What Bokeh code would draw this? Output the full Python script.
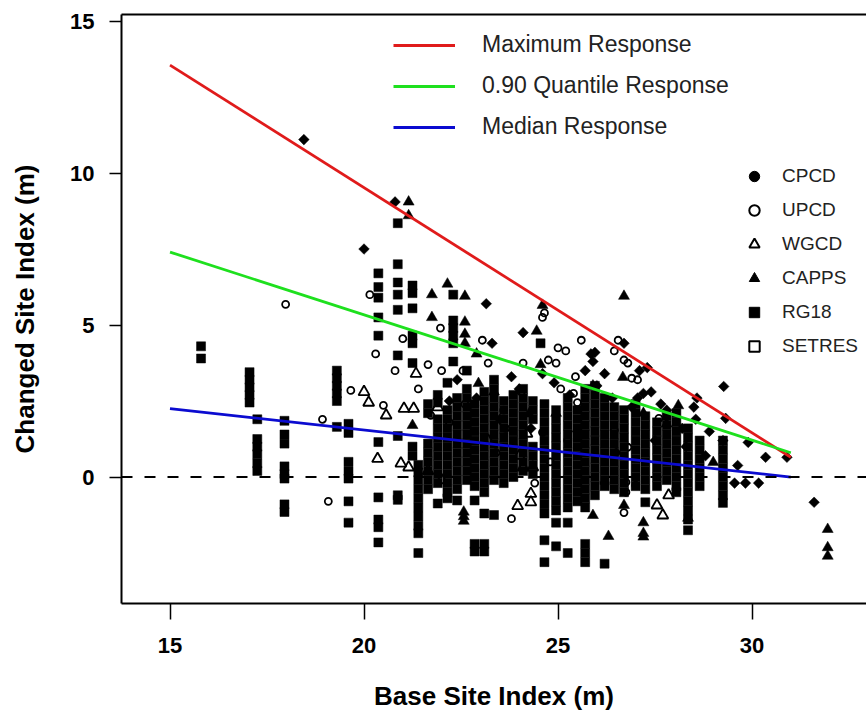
import numpy as np
from bokeh.plotting import figure
from bokeh.models import Span, Legend, LegendItem, FixedTicker, Range1d, LinearAxis
from bokeh.embed import file_html
from bokeh.resources import INLINE

# ---- response lines (endpoints) ----
line_x = [15, 31]
max_resp = [13.55, 0.65]
q90_resp = [7.4, 0.8]
med_resp = [2.25, 0.0]

# ---- CPCD (filled diamonds) ----
cpcd_x = [18.45, 20.0, 20.8, 23.15, 23.3, 24.1, 25.85, 25.95, 25.7, 26.7, 27.1, 27.3, 29.27, 28.58,
          28.55, 29.32, 29.9, 30.35, 30.9, 28.8, 29.63, 29.55, 29.83, 30.17, 31.6, 29.25, 22.4, 24.0,
          24.9, 25.3, 26.0, 26.4, 26.9, 27.4, 27.8, 28.2, 28.5, 27.5, 26.5, 25.5, 24.6, 23.8, 22.9,
          28.9, 26.2, 25.9, 27.05, 27.2, 27.65, 28.3, 23.5, 24.3, 22.2]
cpcd_y = [11.1, 7.5, 9.05, 5.7, 4.4, 4.75, 4.05, 4.1, 3.5, 4.4, 3.5, 3.6, 2.98, 2.6,
          1.9, 1.93, 1.14, 0.65, 0.65, 0.7, 0.38, -0.2, -0.2, -0.2, -0.83, 1.2, 3.2, 2.9,
          3.1, 2.7, 3.0, 2.6, 2.3, 2.8, 2.2, 1.6, 2.3, 1.2, 0.8, 1.5, 3.4, 3.3, 2.6,
          1.5, 3.4, 3.8, 2.6, 2.75, 2.4, 1.0, 1.9, 1.6, 2.5]

# ---- UPCD (open circles) ----
upcd_x = [17.98, 18.93, 19.08, 20.15, 20.3, 21.0, 21.97, 21.65, 20.8, 22.0, 22.55, 23.05, 23.2,
          24.6, 24.65, 25.6, 26.55, 26.45, 25.0, 25.2, 24.1, 24.95, 24.75, 25.45, 26.8, 26.7,
          23.8, 24.4, 26.7, 19.66, 20.5, 21.72, 23.6, 24.05, 25.07, 25.4, 25.5, 23.65, 24.6,
          25.25, 26.45, 26.8, 26.75, 26.75, 27.0, 27.6, 26.9, 27.05, 22.6, 21.4, 22.2, 24.8, 23.4]
upcd_y = [5.68, 1.9, -0.8, 6.0, 4.05, 4.55, 4.9, 3.7, 3.5, 3.5, 3.5, 4.5, 3.75,
          5.25, 5.4, 4.5, 4.5, 4.15, 4.25, 4.15, 3.75, 3.75, 3.85, 3.3, 3.75, 3.85,
          -1.37, -0.2, -1.17, 2.85, 2.36, 2.03, 2.2, 2.8, 2.9, 2.75, 2.45, 1.6, 1.47,
          1.2, 1.54, 0.98, -0.17, -0.5, -0.27, 1.93, 3.25, 3.2, 2.4, 2.9, 1.8, 0.5, 0.8]

# ---- WGCD (open triangles) ----
wgcd_x = [20.0, 20.12, 20.57, 21.03, 21.28, 20.35, 20.95, 21.15, 21.34, 24.2, 23.96, 24.3,
          24.3, 24.1, 24.35, 27.85, 27.55, 27.7, 21.65, 22.0, 24.0, 21.9, 23.2]
wgcd_y = [2.8, 2.45, 2.03, 2.25, 2.25, 0.6, 0.45, 0.32, 3.4, 1.43, -0.95, -0.83,
          -0.55, 0.32, 0.32, -0.6, -0.93, -1.26, 0.2, -0.1, 0.7, 2.3, 1.2]

# ---- CAPPS (filled triangles) ----
capps_x = [21.15, 21.15, 22.15, 21.75, 22.6, 21.75, 22.6, 22.6, 22.6, 22.9, 24.6, 26.7, 24.45,
           24.55, 22.57, 22.57, 22.57, 25.9, 26.3, 26.7, 27.2, 27.2, 27.2, 28.35, 29.0, 31.95,
           31.95, 31.95, 26.67, 25.9, 24.25, 24.95, 27.2, 28.1, 27.8, 22.95, 23.35, 21.25]
capps_y = [9.05, 8.6, 6.35, 6.0, 5.95, 5.25, 5.1, 4.7, 4.4, 4.05, 5.65, 5.95, 4.8,
           3.7, -1.15, -1.3, -1.45, -1.26, -1.95, -0.93, -1.5, -1.85, -1.97, -1.35, 0.48, -1.72,
           -2.32, -2.6, 3.28, 3.0, 2.08, 2.1, 2.1, 2.35, 1.75, 3.08, 2.8, 1.7]

# ---- RG18 (filled squares), measured in columns of base site index ----
rg18_col_x = [15.8, 17.05, 17.25, 17.95, 19.3, 19.6, 20.37, 20.87, 21.25, 21.4, 21.65, 21.9,
              22.15, 22.3, 22.4, 22.65, 22.85, 23.1, 23.35, 23.6, 23.85, 24.1, 24.35, 24.55,
              24.65, 24.95, 25.25, 25.5, 25.7, 25.95, 26.2, 26.45, 26.7, 27.0, 27.25, 27.55,
              27.8, 28.05, 28.35, 28.65, 29.25]
rg18_col_y = [
    [4.3, 3.9],
    [3.45, 3.2, 2.95, 2.7, 2.45],
    [1.9, 1.25, 1.0, 0.75, 0.45, 0.2],
    [1.85, 1.4, 1.1, 0.35, 0.1, -0.05, -0.9, -1.15],
    [3.5, 3.25, 3.0, 2.75, 2.5, 1.65],
    [1.75, 1.45, 0.5, 0.2, -0.05, -0.8, -1.5],
    [6.7, 6.25, 5.9, 5.25, 4.65, 1.15, -0.67, -1.4, -1.65, -2.15],
    [8.35, 7.0, 6.4, 6.0, 5.5, 4.0, 1.35, -0.6, -0.75],
    [6.3, 6.05, 5.55, 4.65, 4.4, 3.75, 1.0, 0.7],
    [0.4, 0.15, -0.1, -0.4, -0.7, -1.0, -1.3, -1.6, -1.85, -2.5],
    [2.4, 2.1, 1.1, 0.8, 0.5, 0.2, -0.1, -0.4],
    [2.7, 2.45, 1.9, 1.6, 1.3, 1.0, 0.7, 0.4, 0.1, -0.2, -0.87],
    [3.1, 2.2, 1.9, 1.6, 1.3, 1.0, 0.7, 0.4, 0.1, -0.2, -0.5, -0.7],
    [6.0, 5.15, 4.9, 4.65, 4.4, 3.8],
    [2.6, 2.3, 2.0, 1.7, 1.4, 1.1, 0.8, 0.5, 0.2, -0.1, -0.4, -0.77],
    [3.5, 2.9, 2.6, 2.3, 2.0, 1.7, 1.4, 1.1, 0.8, 0.5, 0.2, -0.1],
    [2.4, 2.1, 1.8, 1.5, 1.2, 0.9, 0.6, 0.3, 0.0, -0.3, -0.77, -2.2, -2.45],
    [2.8, 2.5, 2.2, 1.9, 1.6, 1.3, 1.0, 0.7, 0.4, 0.1, -0.2, -0.5, -1.2, -2.2, -2.45],
    [3.2, 2.9, 2.6, 2.3, 2.0, 1.7, 1.4, 1.1, 0.8, 0.5, 0.2, -0.1, -1.25],
    [2.5, 2.2, 1.9, 1.6, 1.3, 1.0, 0.7, 0.4, 0.1, -0.2],
    [2.7, 2.4, 2.1, 1.8, 1.5, 1.2, 0.9, 0.6, 0.3, 0.0],
    [2.9, 2.6, 2.3, 2.0, 1.7, 1.4, 1.1, 0.8, 0.5, 0.2],
    [2.5, 2.2, 1.9, 1.0, 0.7, 0.4, 0.1],
    [4.4],
    [2.4, 2.1, 1.8, 1.5, 1.2, 0.9, 0.6, 0.3, 0.0, -0.3, -0.6, -0.9, -1.2, -2.08, -2.8],
    [2.2, 1.9, 1.6, 1.3, 1.0, 0.7, 0.4, 0.1, -0.2, -0.5, -0.8, -1.1, -1.5, -2.28],
    [2.6, 2.3, 2.0, 1.7, 1.4, 1.1, 0.8, 0.5, 0.2, -0.1, -0.4, -0.7, -1.0, -1.5, -2.5],
    [2.2, 1.9, 1.6, 1.3, 1.0, 0.7, 0.4, 0.1, -0.2, -0.5, -0.8],
    [2.9, 2.6, 2.3, 2.0, 1.7, 1.4, 1.1, 0.8, 0.5, 0.2, -0.1, -0.4, -0.7, -1.0, -2.2, -2.5, -2.8],
    [3.0, 2.7, 2.4, 2.1, 1.8, 1.5, 1.2, 0.9, 0.6, 0.3, 0.0, -0.3, -0.6],
    [2.6, 2.3, 2.0, 1.7, 1.4, 1.1, 0.8, 0.5, 0.2, -0.1, -0.3, -2.85],
    [2.3, 2.0, 1.7, 1.4, 1.1, 0.8, 0.5, 0.2, -0.1, -0.4],
    [2.2, 1.9, 1.6, 1.3, 1.0, 0.7, 0.4, 0.1, -0.2, -0.5],
    [2.4, 2.1, 1.8, 1.5, 1.2, 0.9, 0.6, 0.3, 0.0, -0.3],
    [2.0, 1.7, 1.4, 1.1, 0.8, 0.5, 0.2, -0.1, -0.4, -0.83],
    [1.8, 1.5, 1.2, 0.9, 0.6, 0.3, 0.0, -0.3],
    [2.0, 1.7, 1.4, 1.1, 0.8, 0.5, 0.2, -0.1],
    [2.1, 1.8, 1.5, 1.2, 0.9, 0.6, 0.3, 0.0, -0.3, -0.5],
    [1.6, 1.3, 1.0, 0.7, 0.4, 0.1, -0.2, -0.5, -0.8, -1.1, -1.4, -1.75],
    [1.2, 0.9, 0.6, 0.3, 0.0, -0.3],
    [1.2, 0.9, 0.6, 0.3, 0.0, -0.3, -0.6, -0.85],
]
rg18_x = [cx for cx, col in zip(rg18_col_x, rg18_col_y) for _ in col]
rg18_y = [v for col in rg18_col_y for v in col]

x_ticks = [15, 20, 25, 30]
y_ticks = [0, 5, 10, 15]

FONT = "Liberation Sans"

p = figure(width=866, height=717, x_range=Range1d(13.75, 32.95), y_range=Range1d(-4.16, 15.215),
           output_backend="svg", toolbar_location=None,
           min_border_left=121, min_border_right=0, min_border_top=14, min_border_bottom=114)
p.grid.visible = False
p.outline_line_color = None
p.background_fill_color = "white"
p.border_fill_color = "white"

xax = p.below[0]
yax = p.left[0]

for ax in (xax, yax):
    ax.axis_line_color = "black"
    ax.axis_line_width = 2
    ax.major_tick_line_color = "black"
    ax.major_tick_line_width = 1.5
    ax.major_tick_in = 0
    ax.minor_tick_line_color = None
    ax.minor_tick_out = 0
    ax.major_label_text_font = FONT
    ax.major_label_text_font_style = "bold"
    ax.major_label_text_font_size = "22px"
    ax.major_label_text_color = "black"
    ax.axis_label_text_font = FONT
    ax.axis_label_text_font_style = "bold"
    ax.axis_label_text_font_size = "26px"
    ax.axis_label_text_color = "black"

xax.ticker = FixedTicker(ticks=x_ticks)
yax.ticker = FixedTicker(ticks=y_ticks)
xax.major_tick_out = 16
yax.major_tick_out = 12
xax.major_label_standoff = 18
yax.major_label_standoff = 15
xax.axis_label = "Base Site Index (m)"
yax.axis_label = "Changed Site Index (m)"
xax.axis_label_standoff = 25
yax.axis_label_standoff = 27

# top edge of the box (the right edge is cropped away in the reference)
top_ax = LinearAxis(ticker=FixedTicker(ticks=[]), axis_line_color="black", axis_line_width=2,
                    major_tick_line_color=None, minor_tick_line_color=None,
                    major_tick_out=0, major_tick_in=0, minor_tick_out=0, minor_tick_in=0,
                    major_label_text_font_size="0px", major_label_standoff=0,
                    axis_label_standoff=0)
p.add_layout(top_ax, "above")

p.add_layout(Span(location=0, dimension="width", line_color="black", line_width=2, line_dash="11 12"))

# points
p.scatter(rg18_x, rg18_y, marker="square", size=9, fill_color="black", line_color="black", line_width=0.5)
p.scatter(cpcd_x, cpcd_y, marker="square", angle=np.pi / 4, size=7.5, fill_color="black", line_color="black", line_width=0.5)
p.scatter(upcd_x, upcd_y, marker="circle", size=7, fill_color=None, line_color="black", line_width=1.8)
p.scatter(wgcd_x, wgcd_y, marker="triangle", size=11, fill_color=None, line_color="black", line_width=1.8)
p.scatter(capps_x, capps_y, marker="triangle", size=11, fill_color="black", line_color="black", line_width=0.5)

r_max = p.line(line_x, max_resp, line_color="#e01b1b", line_width=2.8)
r_q90 = p.line(line_x, q90_resp, line_color="#1ee01e", line_width=2.8)
r_med = p.line(line_x, med_resp, line_color="#0b0bd0", line_width=2.8)

leg1 = Legend(items=[LegendItem(label="Maximum Response", renderers=[r_max]),
                     LegendItem(label="0.90 Quantile Response", renderers=[r_q90]),
                     LegendItem(label="Median Response", renderers=[r_med])],
              location=(272, 463), orientation="vertical", padding=0, margin=0, spacing=14,
              glyph_width=62, glyph_height=26, label_height=26, label_standoff=27,
              label_text_font=FONT, label_text_font_size="23px", label_text_color="#222222",
              border_line_color=None, background_fill_alpha=0)

nan = [float("nan")]
e_cpcd = p.scatter(nan, nan, marker="circle", fill_color="black", line_color="black")
e_upcd = p.scatter(nan, nan, marker="circle", fill_color=None, line_color="black", line_width=2)
e_wgcd = p.scatter(nan, nan, marker="triangle", fill_color=None, line_color="black", line_width=2)
e_capps = p.scatter(nan, nan, marker="triangle", fill_color="black", line_color="black")
e_rg18 = p.scatter(nan, nan, marker="square", fill_color="black", line_color="black")
e_setres = p.scatter(nan, nan, marker="square", fill_color=None, line_color="black", line_width=2)

leg2 = Legend(items=[LegendItem(label="CPCD", renderers=[e_cpcd]),
                     LegendItem(label="UPCD", renderers=[e_upcd]),
                     LegendItem(label="WGCD", renderers=[e_wgcd]),
                     LegendItem(label="CAPPS", renderers=[e_capps]),
                     LegendItem(label="RG18", renderers=[e_rg18]),
                     LegendItem(label="SETRES", renderers=[e_setres])],
              location=(620, 244), orientation="vertical", padding=0, margin=0, spacing=8,
              glyph_width=26, glyph_height=26, label_height=26, label_standoff=15,
              label_text_font=FONT, label_text_font_size="19px", label_text_color="#222222",
              border_line_color=None, background_fill_alpha=0)
p.add_layout(leg1)
p.add_layout(leg2)

open("out.html", "w").write(file_html(p, INLINE))
